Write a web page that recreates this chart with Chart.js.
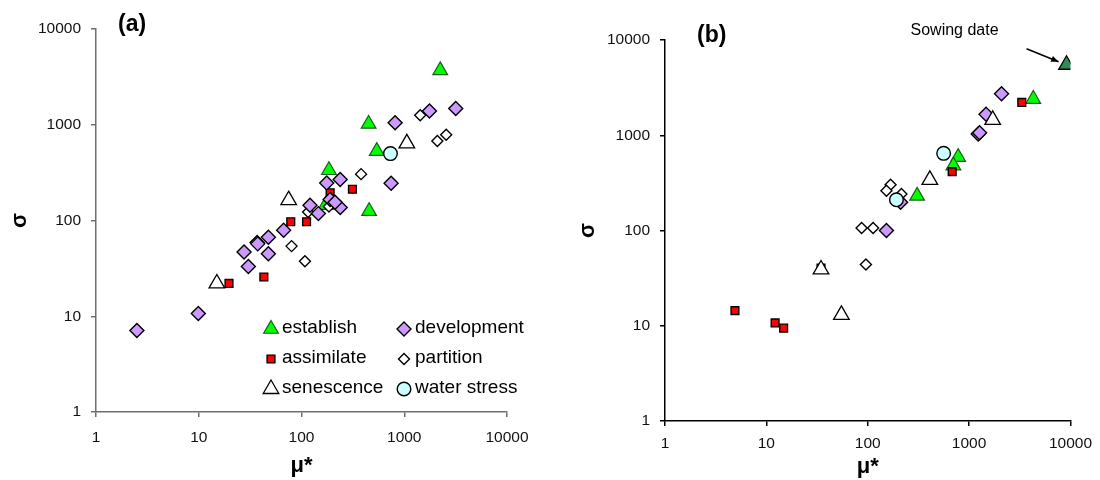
<!DOCTYPE html>
<html>
<head>
<meta charset="utf-8">
<script src="https://cdn.jsdelivr.net/npm/chart.js@4.4.0/dist/chart.umd.min.js"></script>
<style>
  body { margin: 0; background: #fff; }
  .panel { position: absolute; top: 0; height: 480px; }
  #wrapA { left: 0; width: 540px; }
  #wrapB { left: 550px; width: 550px; }
</style>
</head>
<body>
<div class="panel" id="wrapA"><canvas id="chartA" width="540" height="480"></canvas></div>
<div class="panel" id="wrapB"><canvas id="chartB" width="550" height="480"></canvas></div>
<script>
// axis ticks shared by both panels (log-log)
const tickValues = [1, 10, 100, 1000, 10000];

// panel (a): [mu*, sigma]
const establishA = [[2240, 3700], [450, 1020], [540, 530], [185, 335], [172, 145], [455, 125]];
const developmentA = [[3170, 1480], [1760, 1390], [815, 1050], [238, 268], [176, 247], [745, 245],
  [121, 144], [238, 137], [190, 166], [212, 155], [146, 118], [67, 79], [47.6, 67], [37, 59],
  [37.5, 57], [27.6, 47], [47.6, 45], [30.4, 33], [9.9, 10.7], [2.5, 7.1]];
const assimilateA = [[313, 212], [190, 195], [78.6, 97], [112, 97], [43, 25.7], [19.7, 22]];
const partitionA = [[1430, 1260], [2560, 785], [2100, 675], [380, 305], [116, 123], [80, 54],
  [108, 37.5], [200, 160], [185, 140]];
const senescenceA = [[1060, 640], [75, 163], [15, 22]];
const waterStressA = [[734, 500]];

// panel (b)
const establishB = [[4300, 2400], [780, 590], [700, 480], [307, 231]];
const sowingDateB = [[9150, 5500]];
const developmentB = [[2090, 2720], [1470, 1660], [1230, 1030], [1270, 1060], [211, 198], [153, 100]];
const assimilateB = [[3310, 2210], [681, 415], [34.6, 40.3], [4.9, 14.4], [12.2, 10.7], [14.8, 9.46]];
const partitionB = [[168, 302], [153, 261], [215, 242], [87, 106], [113, 106], [96, 44]];
const senescenceB = [[1710, 1450], [410, 340], [34.6, 39], [55, 13]];
const waterStressB = [[561, 646], [192, 210]];

const FONT = "'Liberation Sans', Arial, sans-serif";

const styles = {
  'establish':    { shape: 'triangle', r: 8.5, fill: '#00ff00', stroke: '#1d5e1d', w: 1.2, z: 6 },
  'development':  { shape: 'rectRot',  r: 7,   fill: '#cc99ff', stroke: '#000000', w: 1.4, z: 3 },
  'assimilate':   { shape: 'rect',     r: 5.5, fill: '#ff0000', stroke: '#000000', w: 1.4, z: 4 },
  'partition':    { shape: 'rectRot',  r: 5.5, fill: '#ffffff', stroke: '#000000', w: 1.4, z: 5 },
  'senescence':   { shape: 'triangle', r: 9,   fill: '#ffffff', stroke: '#000000', w: 1.3, z: 2 },
  'water stress': { shape: 'circle',   r: 6.8, fill: '#ccffff', stroke: '#000000', w: 1.4, z: 1 },
  'sowing date':  { shape: 'triangle', r: 9,   fill: '#2e8b57', stroke: '#000000', w: 1.3, z: 0 }
};

function toDataset(label, points) {
  const s = styles[label];
  return {
    label,
    data: points.map(p => ({ x: p[0], y: p[1] })),
    pointStyle: s.shape,
    pointRadius: s.r,
    pointHoverRadius: s.r,
    backgroundColor: s.fill,
    borderColor: s.stroke,
    borderWidth: s.w,
    order: s.z
  };
}

const panelLabel = {
  id: 'panelLabel',
  afterDraw(chart, args, opts) {
    const ctx = chart.ctx, a = chart.chartArea;
    ctx.save();
    ctx.font = 'bold 23px ' + FONT;
    ctx.fillStyle = '#000';
    ctx.textBaseline = 'middle';
    ctx.fillText(opts.text, a.left + opts.dx, a.top + opts.dy);
    ctx.restore();
  }
};

const boxLegend = {
  id: 'boxLegend',
  afterDatasetsDraw(chart, args, opts) {
    if (!opts.show) return;
    const ctx = chart.ctx, a = chart.chartArea;
    ctx.save();
    chart.data.datasets.forEach((ds, i) => {
      const col = i % 2, row = Math.floor(i / 2);
      const x = a.left + 175 + col * 133;
      const y = a.bottom - 84 + row * 30;
      ctx.fillStyle = ds.backgroundColor;
      ctx.strokeStyle = ds.borderColor;
      ctx.lineWidth = ds.borderWidth;
      Chart.helpers.drawPoint(ctx, { pointStyle: ds.pointStyle, radius: ds.pointRadius, borderWidth: ds.borderWidth, rotation: 0 }, x, y + 1);
      ctx.fillStyle = '#000';
      ctx.font = '19px ' + FONT;
      ctx.textBaseline = 'middle';
      ctx.fillText(ds.label, x + 11, y);
    });
    ctx.restore();
  }
};

const sowingNote = {
  id: 'sowingNote',
  afterDraw(chart, args, opts) {
    if (!opts.show) return;
    const idx = chart.data.datasets.findIndex(d => d.label === 'sowing date');
    const pt = chart.getDatasetMeta(idx).data[0];
    const ctx = chart.ctx;
    ctx.save();
    ctx.fillStyle = '#000';
    ctx.font = '16px ' + FONT;
    ctx.textAlign = 'center';
    ctx.textBaseline = 'middle';
    ctx.fillText('Sowing date', pt.x - 112, pt.y - 34);
    const x0 = pt.x - 40, y0 = pt.y - 16, x1 = pt.x - 8, y1 = pt.y - 3;
    ctx.strokeStyle = '#000';
    ctx.lineWidth = 1.5;
    ctx.beginPath(); ctx.moveTo(x0, y0); ctx.lineTo(x1, y1); ctx.stroke();
    const ang = Math.atan2(y1 - y0, x1 - x0);
    ctx.beginPath();
    ctx.moveTo(x1, y1);
    ctx.lineTo(x1 - 8 * Math.cos(ang - 0.4), y1 - 8 * Math.sin(ang - 0.4));
    ctx.lineTo(x1 - 8 * Math.cos(ang + 0.4), y1 - 8 * Math.sin(ang + 0.4));
    ctx.closePath(); ctx.fill();
    ctx.restore();
  }
};

function buildChart(id, datasets, cfg) {
  const tickFont = { family: FONT, size: 15.5 };
  const titleFont = { family: FONT, size: 22, weight: 'bold' };
  new Chart(document.getElementById(id), {
    type: 'scatter',
    data: { datasets },
    options: {
      responsive: false,
      animation: false,
      layout: { padding: { top: cfg.top, right: cfg.right, bottom: 0, left: 0 } },
      plugins: {
        legend: { display: false },
        tooltip: { enabled: false },
        panelLabel: { text: cfg.label, dx: cfg.labelDx, dy: cfg.labelDy },
        boxLegend: { show: cfg.legend },
        sowingNote: { show: cfg.sowing }
      },
      scales: {
        x: {
          type: 'logarithmic', min: 1, max: 10000,
          afterBuildTicks: s => { s.ticks = tickValues.map(v => ({ value: v })); },
          afterFit: s => { s.height = cfg.xAxisH; },
          ticks: { callback: v => String(v), color: '#111', font: tickFont, padding: cfg.xTickPad, maxRotation: 0, autoSkip: false },
          grid: { drawOnChartArea: false, drawTicks: true, tickLength: 5, color: cfg.axisColor, lineWidth: 1.5 },
          border: { display: true, color: cfg.axisColor, width: 1.5 },
          title: { display: true, text: 'μ*', color: '#000', font: titleFont, padding: { top: 0, bottom: cfg.xTitlePad } }
        },
        y: {
          type: 'logarithmic', min: 1, max: 10000,
          afterBuildTicks: s => { s.ticks = tickValues.map(v => ({ value: v })); },
          afterFit: s => { s.width = cfg.yAxisW; },
          ticks: { callback: v => String(v), color: '#111', font: tickFont, padding: 10, autoSkip: false },
          grid: { drawOnChartArea: false, drawTicks: true, tickLength: 5, color: cfg.axisColor, lineWidth: 1.5 },
          border: { display: true, color: cfg.axisColor, width: 1.5 },
          title: { display: true, text: 'σ', color: '#000', font: titleFont, padding: { top: cfg.yTitlePad, bottom: 0 } }
        }
      }
    },
    plugins: [panelLabel, boxLegend, sowingNote]
  });
}

buildChart('chartA', [
  toDataset('establish', establishA),
  toDataset('development', developmentA),
  toDataset('assimilate', assimilateA),
  toDataset('partition', partitionA),
  toDataset('senescence', senescenceA),
  toDataset('water stress', waterStressA)
], { top: 29, right: 33, yAxisW: 96, xAxisH: 68, xTickPad: 11, xTitlePad: 1, yTitlePad: 7,
     axisColor: '#6e6e6e', label: '(a)', labelDx: 22, labelDy: -4, legend: true, sowing: false });

buildChart('chartB', [
  toDataset('establish', establishB),
  toDataset('development', developmentB),
  toDataset('assimilate', assimilateB),
  toDataset('partition', partitionB),
  toDataset('senescence', senescenceB),
  toDataset('water stress', waterStressB),
  toDataset('sowing date', sowingDateB)
], { top: 40, right: 27, yAxisW: 115, xAxisH: 59, xTickPad: 8, xTitlePad: 0, yTitlePad: 25,
     axisColor: '#000000', label: '(b)', labelDx: 32, labelDy: -4, legend: false, sowing: true });
</script>
</body>
</html>
